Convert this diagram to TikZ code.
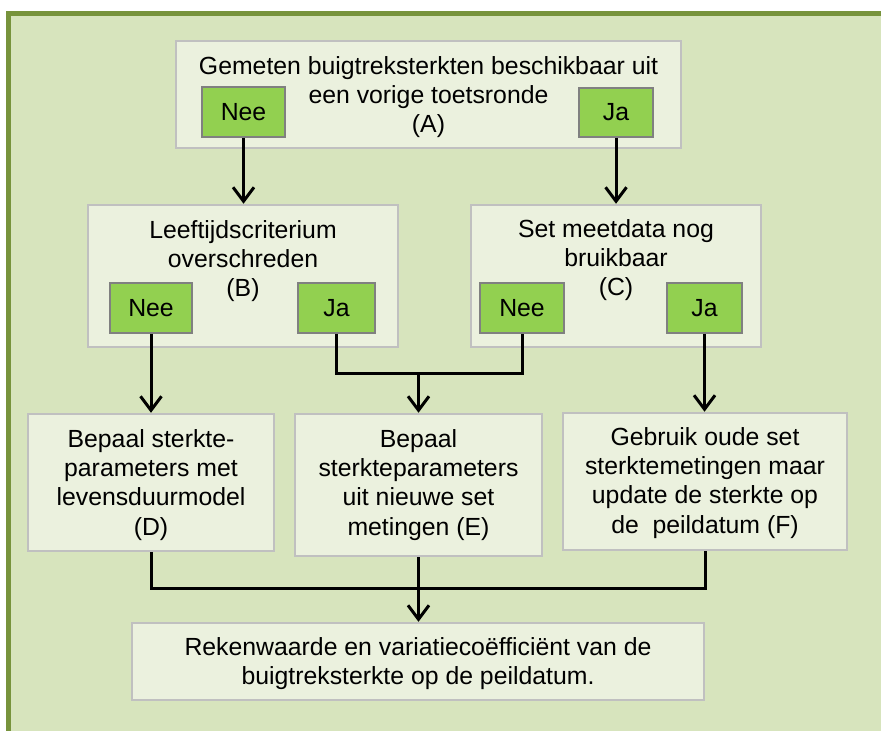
\documentclass[tikz,border=0pt]{standalone}
\usepackage{fontspec}
\setmainfont{Liberation Sans}
\usetikzlibrary{arrows.meta}
\definecolor{frameolive}{HTML}{77933C}
\definecolor{panelbg}{HTML}{D7E4BD}
\definecolor{boxfill}{HTML}{EBF1DE}
\definecolor{boxline}{HTML}{C0C0C0}
\definecolor{btnfill}{HTML}{92D050}
\definecolor{btnline}{HTML}{808080}
\newcommand\flowfont{\fontsize{24.8}{29.3}\selectfont}

\begin{document}
\begin{tikzpicture}[x=1pt,y=-1pt,
  panel/.style={draw=boxline, line width=2.5pt, fill=boxfill, inner sep=0pt},
  btn/.style={draw=btnline, line width=1.8pt, fill=btnfill, inner sep=0pt, font=\flowfont},
  lbl/.style={align=center, anchor=north, inner sep=0pt, font=\flowfont},
  link/.style={line width=3pt, black},
  flow/.style={link, -{Straight Barb[length=14pt,width=21pt]}}]

% page and framed background
\useasboundingbox (0,0) rectangle (881,731);
\fill[white] (0,0) rectangle (881,731);
\fill[panelbg] (6,11) rectangle (881,731);
\draw[frameolive, line width=4.8pt] (8.5,731) -- (8.5,13.2) -- (881,13.2);

% decision and result boxes
\node[panel, minimum width=505pt, minimum height=107pt] (A) at (428.5,94.5) {};
\node[panel, minimum width=310pt, minimum height=142pt] (B) at (243,276) {};
\node[panel, minimum width=290pt, minimum height=142pt] (C) at (616,276) {};
\node[panel, minimum width=246pt, minimum height=137pt] (D) at (151,482.5) {};
\node[panel, minimum width=247pt, minimum height=142pt] (E) at (418.5,485) {};
\node[panel, minimum width=284pt, minimum height=137pt] (F) at (705,481.5) {};
\node[panel, minimum width=572pt, minimum height=77pt]  (G) at (418,661.5) {};

% box texts
\node[lbl] (tA) at (428.5,56.2) {Gemeten buigtreksterkten beschikbaar uit\\een vorige toetsronde\\(A)};
\node[lbl] (tB) at (243,220.2) {Leeftijdscriterium\\overschreden\\(B)};
\node[lbl] (tC) at (616,219.2) {Set meetdata nog\\bruikbaar\\(C)};
\node[lbl] (tD) at (151,429.2) {Bepaal sterkte-\\parameters met\\levensduurmodel\\(D)};
\node[lbl] (tE) at (418.5,429.2) {Bepaal\\sterkteparameters\\uit nieuwe set\\metingen (E)};
\node[lbl] (tF) at (705,427.2) {Gebruik oude set\\sterktemetingen maar\\update de sterkte op\\de~~peildatum (F)};
\node[lbl] (tG) at (418,637.2) {Rekenwaarde en variatieco\"efficiënt van de\\buigtreksterkte op de peildatum.};

% answer buttons
\node[btn, minimum width=83pt, minimum height=50pt] (nA) at (243.5,112) {Nee};
\node[btn, minimum width=74pt, minimum height=49pt] (jA) at (616,112.5) {Ja};
\node[btn, minimum width=82pt, minimum height=50pt] (nB) at (151,308) {Nee};
\node[btn, minimum width=77pt, minimum height=50pt] (jB) at (336.5,308) {Ja};
\node[btn, minimum width=84pt, minimum height=50pt] (nC) at (522,308) {Nee};
\node[btn, minimum width=75pt, minimum height=50pt] (jC) at (704.5,308) {Ja};

% junction points
\coordinate (mid1) at (418.5,373);
\coordinate (mid2) at (418,588);

% connectors
\draw[flow] (nA.south) -- (B.north -| nA.south);
\draw[flow] (jA.south) -- (C.north -| jA.south);
\draw[flow] (nB.south) -- (D.north -| nB.south);
\draw[flow] (jC.south) -- (F.north -| jC.south);
\draw[link] (jB.south) |- (mid1) -| (nC.south);
\draw[flow] (mid1) -- (E.north -| mid1);
\draw[link] (D.south) |- (mid2) -| (F.south);
\draw[flow] (E.south) -- (G.north -| E.south);
\end{tikzpicture}
\end{document}
